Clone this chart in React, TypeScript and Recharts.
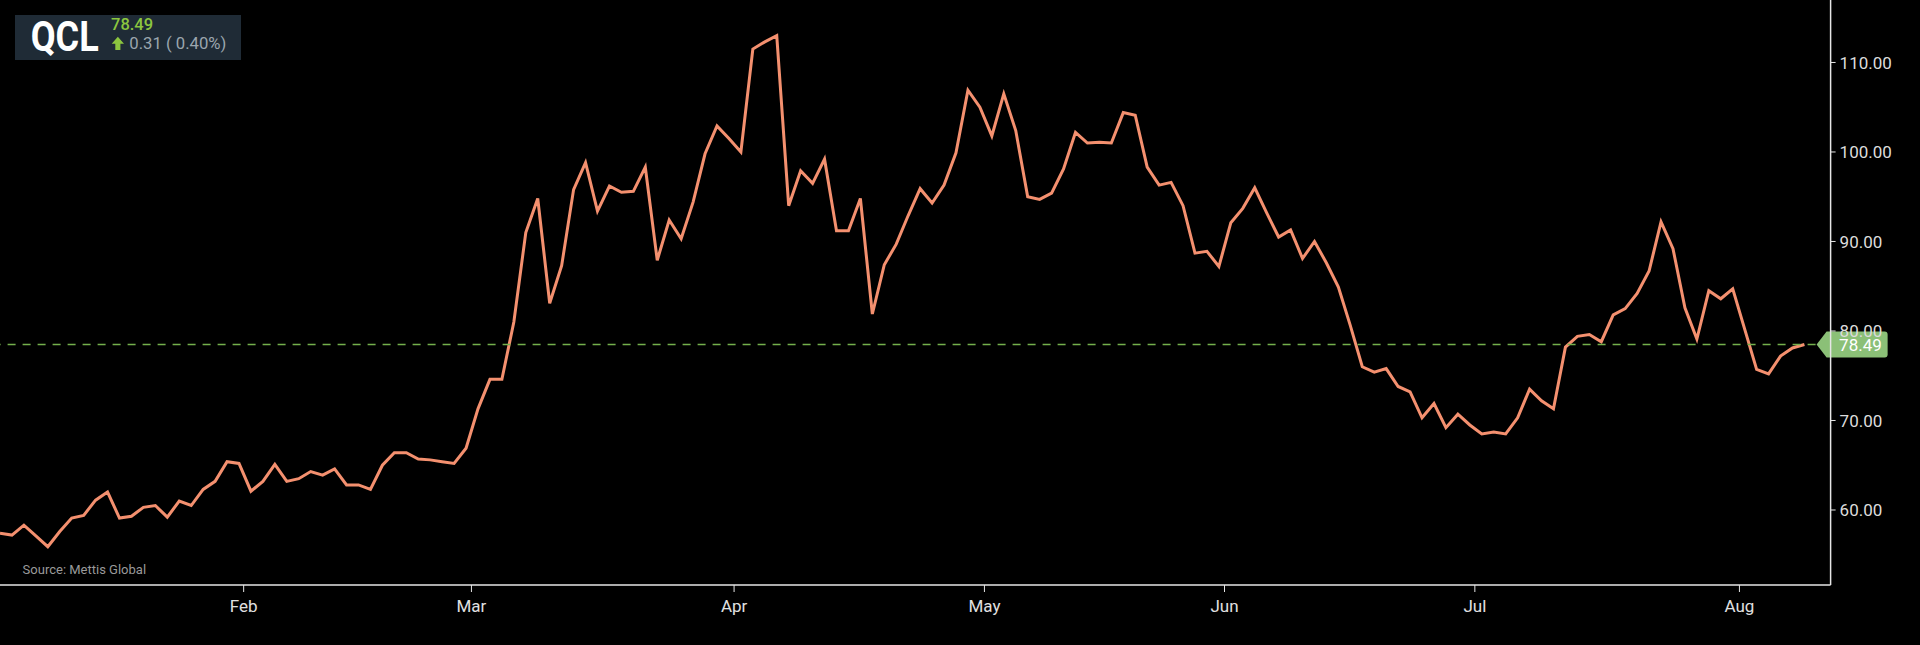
import React from 'react';
import { LineChart, Line, XAxis, YAxis, ReferenceLine } from 'recharts';

// Daily closing prices (index = trading-day position)
const prices: number[] = [
  57.4, 57.2, 58.3, 57.1, 55.9, 57.6, 59.1, 59.4, 61.1, 62.0,
  59.1, 59.3, 60.3, 60.5, 59.2, 61.0, 60.5, 62.3, 63.2, 65.4,
  65.2, 62.1, 63.2, 65.1, 63.2, 63.5, 64.3, 63.9, 64.6, 62.8,
  62.8, 62.3, 65.0, 66.4, 66.4, 65.7, 65.6, 65.4, 65.2, 66.9,
  71.3, 74.6, 74.6, 81.0, 91.0, 94.8, 83.1, 87.3, 95.8, 98.8,
  93.4, 96.2, 95.5, 95.6, 98.3, 87.9, 92.4, 90.3, 94.4, 99.8,
  102.9, 101.5, 100.0, 111.5, 112.3, 113.0, 94.0, 97.9, 96.5, 99.2,
  91.2, 91.2, 94.8, 81.9, 87.4, 89.7, 92.9, 95.9, 94.3, 96.3,
  99.9, 106.9, 105.0, 101.8, 106.5, 102.4, 95.0, 94.7, 95.4, 98.1,
  102.2, 101.0, 101.1, 101.0, 104.4, 104.1, 98.3, 96.3, 96.6, 94.0,
  88.7, 88.9, 87.2, 92.1, 93.7, 96.0, 93.2, 90.5, 91.3, 88.1,
  90.0, 87.6, 84.9, 80.6, 76.0, 75.4, 75.8, 73.8, 73.2, 70.3,
  71.9, 69.2, 70.7, 69.5, 68.5, 68.7, 68.5, 70.3, 73.5, 72.2,
  71.3, 78.2, 79.4, 79.6, 78.8, 81.8, 82.5, 84.2, 86.7, 92.2,
  89.2, 82.6, 79.1, 84.5, 83.6, 84.7, 80.2, 75.7, 75.2, 77.2,
  78.1, 78.49,
];

// Month boundaries expressed on the trading-day index scale
const monthTickPositions: number[] = [20.39, 39.45, 61.43, 82.38, 102.47, 123.42, 145.56];
const monthLabels: string[] = ['Feb', 'Mar', 'Apr', 'May', 'Jun', 'Jul', 'Aug'];
const priceTicks: number[] = [60, 70, 80, 90, 100, 110];
const xDomain: number[] = [0, 153.19];
const yDomain: number[] = [51.62, 116.98];

const symbol = 'QCL';
const lastPrice = 78.49;
const change = 0.31;
const changePct = 0.4;
const sourceText = 'Source: Mettis Global';

const data = prices.map((p, i) => ({ i, p }));

const FONT = 'Roboto, "Noto Sans", sans-serif';
const REF_GREEN = '#74b04c';

const PriceTag = (props: any) => {
  const vb = props.viewBox || {};
  const right = (vb.x || 0) + (vb.width || 0);
  const cy = vb.y || 0;
  const tip = right - 14;
  const bodyL = right - 4;
  const bodyR = right + 57;
  const h = 13;
  const d = `M ${tip} ${cy} L ${bodyL} ${cy - h} L ${bodyR - 3} ${cy - h} Q ${bodyR} ${cy - h} ${bodyR} ${cy - h + 3} L ${bodyR} ${cy + h - 3} Q ${bodyR} ${cy + h} ${bodyR - 3} ${cy + h} L ${bodyL} ${cy + h} Z`;
  return (
    <g>
      <path d={d} fill="#8bc077" />
      <text x={right + 8.5} y={cy + 6} fill="#ffffff" fontSize={17} fontFamily={FONT}>
        {lastPrice.toFixed(2)}
      </text>
    </g>
  );
};

export default function App() {
  return (
    <div
      style={{
        position: 'fixed',
        left: 0,
        top: 0,
        width: 1920,
        height: 645,
        background: '#000000',
        overflow: 'hidden',
      }}
    >
      <LineChart
        width={1920}
        height={645}
        data={data}
        margin={{ top: 0, right: 0, bottom: 0, left: 0 }}
        style={{ fontFamily: FONT }}
      >
        <XAxis
          dataKey="i"
          type="number"
          domain={xDomain}
          allowDataOverflow
          ticks={monthTickPositions}
          interval={0}
          tickFormatter={(v: number) => monthLabels[monthTickPositions.indexOf(v)] ?? ''}
          height={60}
          axisLine={{ stroke: '#e6e6e6', strokeWidth: 1.5 }}
          tickLine={{ stroke: '#e6e6e6' }}
          tickSize={7}
          tickMargin={8}
          tick={{ fill: '#e0e0e0', fontSize: 17, fontFamily: FONT }}
        />
        <YAxis
          orientation="right"
          type="number"
          domain={yDomain}
          allowDataOverflow
          ticks={priceTicks}
          interval={0}
          tickFormatter={(v: number) => v.toFixed(2)}
          width={89.4}
          axisLine={{ stroke: '#e6e6e6', strokeWidth: 1.5 }}
          tickLine={{ stroke: '#e6e6e6' }}
          tickSize={5}
          tickMargin={4}
          tick={{ fill: '#dcdcdc', fontSize: 17, fontFamily: FONT }}
        />
        <Line
          type="linear"
          dataKey="p"
          stroke="#f4906f"
          strokeWidth={3}
          dot={false}
          activeDot={false}
          isAnimationActive={false}
        />
        <ReferenceLine
          y={lastPrice}
          stroke={REF_GREEN}
          strokeWidth={1.4}
          strokeDasharray="8 7"
          style={{ stroke: REF_GREEN }}
          label={<PriceTag />}
        />
      </LineChart>
      <svg
        width={1920}
        height={645}
        style={{ position: 'absolute', left: 0, top: 0, pointerEvents: 'none' }}
      >
        <rect x={15} y={15} width={226} height={45} fill="#1f2b36" />
        <text
          x={30.7}
          y={50.7}
          fill="#ffffff"
          fontSize={42}
          fontWeight={700}
          fontFamily={FONT}
          textLength={68}
          lengthAdjust="spacingAndGlyphs"
        >
          {symbol}
        </text>
        <text x={111} y={30} fill="#8cc63f" fontSize={16.5} fontWeight={500} fontFamily={FONT}>
          {lastPrice.toFixed(2)}
        </text>
        <path
          d="M 117.85 36.7 L 124 43.8 L 120.4 43.8 L 120.4 50 L 115.3 50 L 115.3 43.8 L 111.7 43.8 Z"
          fill="#8cc63f"
        />
        <text x={129.3} y={49.3} fill="#9ba6ae" fontSize={16.7} fontFamily={FONT}>
          {`${change.toFixed(2)} ( ${changePct.toFixed(2)}%)`}
        </text>
        <text x={22.6} y={573.5} fill="#9a9a9a" fontSize={13} fontFamily={FONT}>
          {sourceText}
        </text>
      </svg>
    </div>
  );
}
